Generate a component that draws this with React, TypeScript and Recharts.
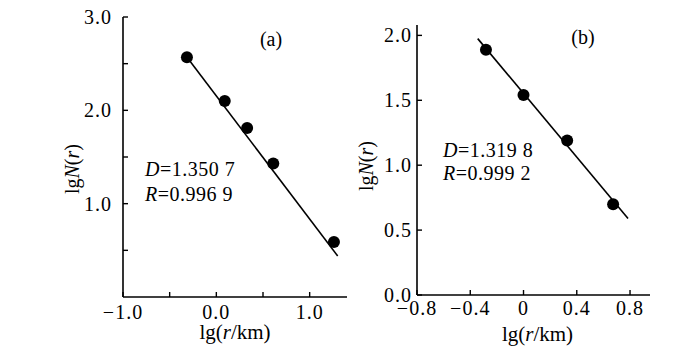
import { ScatterChart, Scatter, XAxis, YAxis } from "recharts";

const FONT = "'Liberation Serif', 'Times New Roman', serif";

// panel (a)
const aX = [-0.315, 0.09, 0.33, 0.61, 1.26];
const aY = [2.57, 2.1, 1.81, 1.43, 0.59];
const aFitX = [-0.3, 1.3];
const aFitY = [2.55, 0.44];
const aXTicks = [-1, -0.5, 0, 0.5, 1];
const aYTicks = [0.5, 1, 1.5, 2, 2.5, 3];

// panel (b)
const bX = [-0.282, 0, 0.328, 0.673];
const bY = [1.89, 1.54, 1.19, 0.7];
const bFitX = [-0.344, 0.785];
const bFitY = [1.975, 0.59];
const bXTicks = [-0.8, -0.4, 0, 0.4, 0.8];
const bYTicks = [0, 0.5, 1, 1.5, 2];

const zip = (xs: number[], ys: number[]) => xs.map((x, i) => ({ x, y: ys[i] }));

const minus = (s: string) => s.replace("-", "\u2212");
const fmtA = (v: number) => (Number.isInteger(v) ? minus(v.toFixed(1)) : "");
const fmtAY = (v: number) => (Number.isInteger(v) ? v.toFixed(1) : "");
const fmtBX = (v: number) => (v === 0 ? "0" : minus(v.toFixed(1)));
const fmtBY = (v: number) => v.toFixed(1);

const tickStyle = { fill: "#000", fontSize: 20, fontFamily: FONT, letterSpacing: 1 };
const axisLine = { stroke: "#000", strokeWidth: 1.6 };
const tickLine = { stroke: "#000", strokeWidth: 1.4 };

const Dot = (props: any) => <circle cx={props.cx} cy={props.cy} r={6} fill="#000" />;
const NoDot = () => <g />;

function xLabel(dx: number, dy: number) {
  return (props: any) => {
    const vb = props.viewBox;
    return (
      <text x={vb.x + vb.width / 2 + dx} y={vb.y + dy} textAnchor="middle" fontFamily={FONT} fontSize={21} fill="#000">
        lg(<tspan fontStyle="italic">r</tspan>/km)
      </text>
    );
  };
}

function yLabel(dy: number) {
  return (props: any) => {
    const vb = props.viewBox;
    const cx = vb.x + vb.width - 51;
    const cy = vb.y + vb.height / 2 + dy;
    return (
      <text x={cx} y={cy} transform={`rotate(-90, ${cx}, ${cy})`} textAnchor="middle" dominantBaseline="central" fontFamily={FONT} fontSize={20} fill="#000">
        lg<tspan fontStyle="italic">N</tspan>(<tspan fontStyle="italic">r</tspan>)
      </text>
    );
  };
}

export default function App() {
  return (
    <div style={{ position: "absolute", left: 0, top: 0, width: 700, height: 362, background: "#fff" }}>
      <div style={{ position: "absolute", left: 0, top: 0 }}>
        <ScatterChart width={360} height={362} margin={{ top: 17, right: 13, left: 63, bottom: 25 }}>
          <XAxis type="number" dataKey="x" domain={[-1, 1.4]} ticks={aXTicks} tickFormatter={fmtA}
            axisLine={axisLine} tickLine={tickLine} tickSize={-5} tickMargin={13} tick={tickStyle} height={40}
            interval={0} label={{ content: xLabel(0, 42) }} />
          <YAxis type="number" dataKey="y" domain={[0, 3]} ticks={aYTicks} tickFormatter={fmtAY}
            axisLine={axisLine} tickLine={tickLine} tickSize={-5} tickMargin={16} tick={tickStyle} width={60}
            interval={0} label={{ content: yLabel(12) }} />
          <Scatter data={zip(aFitX, aFitY)} line={{ stroke: "#000", strokeWidth: 1.6 }} shape={NoDot} isAnimationActive={false} />
          <Scatter data={zip(aX, aY)} shape={Dot} isAnimationActive={false} />
        </ScatterChart>
      </div>
      <div style={{ position: "absolute", left: 330, top: 0 }}>
        <ScatterChart width={370} height={362} margin={{ top: 25, right: 50, left: 37, bottom: 27 }}>
          <XAxis type="number" dataKey="x" domain={[-0.8, 0.95]} ticks={bXTicks} tickFormatter={fmtBX}
            axisLine={axisLine} tickLine={tickLine} tickSize={-5} tickMargin={11} tick={tickStyle} height={40}
            interval={0} label={{ content: xLabel(4, 46) }} />
          <YAxis type="number" dataKey="y" domain={[0, 2.08]} ticks={bYTicks} tickFormatter={fmtBY}
            axisLine={axisLine} tickLine={tickLine} tickSize={-5} tickMargin={10} tick={tickStyle} width={50}
            interval={0} label={{ content: yLabel(6) }} />
          <Scatter data={zip(bFitX, bFitY)} line={{ stroke: "#000", strokeWidth: 1.6 }} shape={NoDot} isAnimationActive={false} />
          <Scatter data={zip(bX, bY)} shape={Dot} isAnimationActive={false} />
        </ScatterChart>
      </div>
      <svg width={700} height={362} style={{ position: "absolute", left: 0, top: 0, pointerEvents: "none" }}>
        <g fontFamily={FONT} fontSize={20} fill="#000">
          <text x={271} y={46} textAnchor="middle">(a)</text>
          <text x={145} y={176} letterSpacing={0.5}><tspan fontStyle="italic">D</tspan>=1.350 7</text>
          <text x={145} y={201} letterSpacing={0.5}><tspan fontStyle="italic">R</tspan>=0.996 9</text>
          <text x={583} y={44} textAnchor="middle">(b)</text>
          <text x={443} y={157} letterSpacing={0.5}><tspan fontStyle="italic">D</tspan>=1.319 8</text>
          <text x={443} y={180} letterSpacing={0.5}><tspan fontStyle="italic">R</tspan>=0.999 2</text>
        </g>
      </svg>
    </div>
  );
}
